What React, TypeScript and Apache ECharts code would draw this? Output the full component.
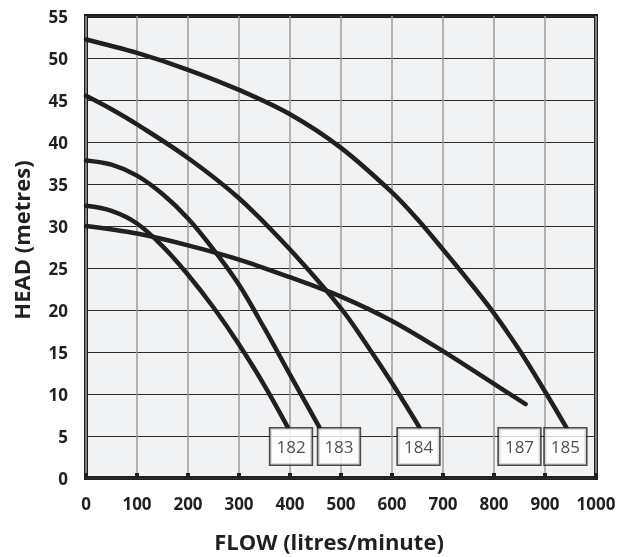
import React, { useEffect, useRef } from "react";
import * as echarts from "echarts";

// Flow (litres/minute) and head (metres)
const flow182 = [0, 50, 100, 150, 200, 250, 300, 350, 396];
const head182 = [32.4, 31.8, 30.3, 27.6, 24.2, 20.3, 15.9, 11.0, 6.0];

const flow183 = [0, 50, 100, 150, 200, 250, 300, 350, 400, 458];
const head183 = [37.8, 37.3, 36.0, 33.8, 30.9, 27.2, 23.0, 17.8, 12.3, 6.0];

const flow184 = [0, 50, 100, 200, 300, 400, 500, 550, 600, 654];
const head184 = [45.5, 43.9, 42.1, 38.1, 33.3, 27.2, 20.2, 15.9, 11.3, 6.0];

const flow187 = [0, 100, 200, 300, 400, 500, 600, 700, 800, 862];
const head187 = [30.0, 29.1, 27.7, 26.0, 23.9, 21.6, 18.7, 15.1, 11.2, 8.8];

const flow185 = [0, 100, 200, 300, 400, 500, 600, 650, 700, 750, 800, 850, 900, 942];
const head185 = [52.2, 50.6, 48.6, 46.2, 43.3, 39.3, 34.0, 30.8, 27.2, 23.5, 19.6, 15.2, 10.3, 6.0];

// Model tags
const labelNames = ["182", "183", "184", "187", "185"];
const labelFlows = [402, 496, 652, 850, 940];
const labelHeads = [3.75, 3.75, 3.75, 3.75, 3.75];

const xTicks = { min: 0, max: 1000, interval: 100 };
const yTicks = { min: 0, max: 55, interval: 5 };

const INK = "#231f20";

function pairs(xs: number[], ys: number[]) {
  return xs.map((x, i) => [x, ys[i]]);
}

export default function App() {
  const ref = useRef<HTMLDivElement>(null);

  useEffect(() => {
    if (!ref.current) return;
    const chart = echarts.init(ref.current, undefined, { renderer: "svg" });
    const curves = [
      { name: "182", data: pairs(flow182, head182) },
      { name: "183", data: pairs(flow183, head183) },
      { name: "184", data: pairs(flow184, head184) },
      { name: "187", data: pairs(flow187, head187) },
      { name: "185", data: pairs(flow185, head185) },
    ];
    chart.setOption({
      animation: false,
      grid: {
        left: 86,
        right: 23,
        top: 16,
        bottom: 75,
        show: true,
        backgroundColor: "#f1f2f4",
        borderColor: INK,
        borderWidth: 4,
      },
      xAxis: {
        type: "value",
        min: xTicks.min,
        max: xTicks.max,
        interval: xTicks.interval,
        name: "FLOW (litres/minute)",
        nameLocation: "middle",
        nameGap: 52,
        nameTextStyle: {
          fontFamily: "Open Sans",
          fontWeight: "bold",
          fontSize: 22,
          color: INK,
          padding: [0, 24, 0, 0],
        },
        axisLine: { show: false },
        axisTick: {
          show: true,
          inside: true,
          length: 5,
          lineStyle: { color: INK, width: 4 },
        },
        axisLabel: {
          margin: 17,
          fontFamily: "Open Sans",
          fontWeight: "bold",
          fontSize: 17,
          color: INK,
          formatter: (v: number) => String(v),
        },
        splitLine: { show: true, lineStyle: { color: "#9d9d9d", width: 1.5 } },
      },
      yAxis: {
        type: "value",
        min: yTicks.min,
        max: yTicks.max,
        interval: yTicks.interval,
        name: "HEAD (metres)",
        nameLocation: "middle",
        nameGap: 54,
        nameTextStyle: {
          fontFamily: "Open Sans",
          fontWeight: "bold",
          fontSize: 22,
          color: INK,
          padding: [0, 0, 0, 14],
        },
        axisLine: { show: false },
        axisTick: { show: false },
        axisLabel: {
          margin: 18,
          fontFamily: "Open Sans",
          fontWeight: "bold",
          fontSize: 17,
          color: INK,
        },
        splitLine: { show: true, lineStyle: { color: "#2b2b2b", width: 1 } },
      },
      series: [
        ...curves.map((c) => ({
          type: "line",
          name: c.name,
          data: c.data,
          smooth: 0.35,
          showSymbol: false,
          symbol: "none",
          lineStyle: { color: INK, width: 4.5, cap: "round" },
          z: 3,
        })),
        {
          type: "scatter",
          name: "tags",
          data: labelFlows.map((x, i) => ({
            value: [x, labelHeads[i]],
            name: labelNames[i],
          })),
          symbolSize: 0,
          z: 5,
          label: {
            show: true,
            position: "inside",
            formatter: (p: any) => p.name,
            fontFamily: "Open Sans",
            fontSize: 17,
            color: INK,
            lineHeight: 22,
            backgroundColor: "#ffffff",
            borderColor: INK,
            borderWidth: 1.6,
            padding: [7, 6, 7, 6],
          },
        },
      ],
    });
    return () => chart.dispose();
  }, []);

  return (
    <div
      ref={ref}
      style={{ position: "fixed", left: 0, top: 0, width: 619, height: 557 }}
    />
  );
}
